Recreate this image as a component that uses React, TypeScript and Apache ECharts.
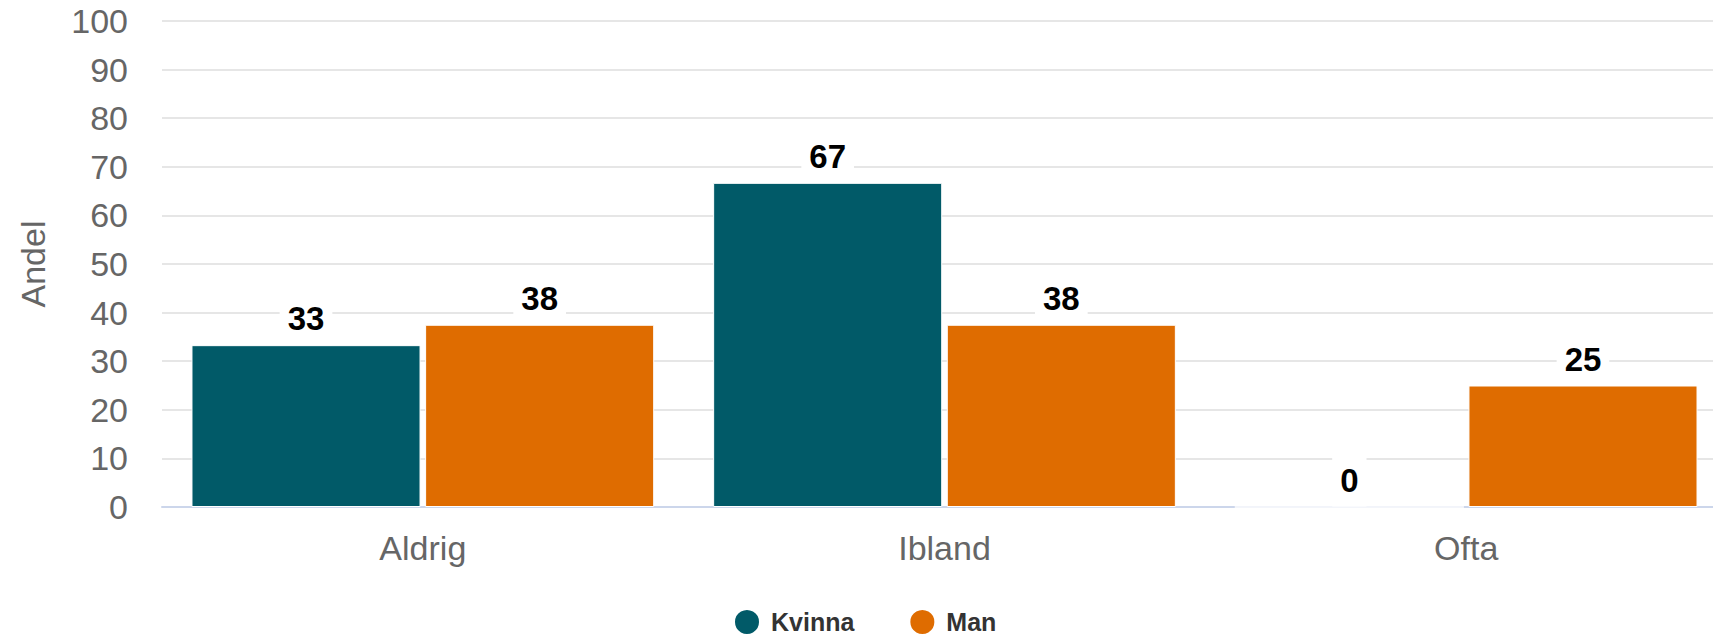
import React, { useEffect, useRef } from "react";
import * as echarts from "echarts";

const categories = ["Aldrig", "Ibland", "Ofta"];
const kvinna = [33.3, 66.7, 0];
const man = [37.5, 37.5, 25];
const yTicks = { min: 0, max: 100, interval: 10 };
const seriesNames = ["Kvinna", "Man"];

const FONT = "'Liberation Sans', Arial, sans-serif";

export default function App() {
  const ref = useRef<HTMLDivElement>(null);
  useEffect(() => {
    if (!ref.current) return;
    const chart = echarts.init(ref.current, null, { renderer: "svg" });
    const label = {
      show: true,
      position: "top",
      distance: 0,
      formatter: (p: any) => String(Math.round(p.value)),
      color: "#000",
      fontWeight: "bold",
      fontSize: 33,
      fontFamily: FONT,
      backgroundColor: "#fff",
      padding: [8, 8, 10, 8],
    };
    chart.setOption({
      animation: false,
      textStyle: { fontFamily: FONT },
      grid: { left: 162, right: 13, top: 21, bottom: 132, containLabel: false },
      legend: {
        data: seriesNames,
        left: 733,
        top: 608,
        padding: 0,
        icon: "circle",
        itemWidth: 26,
        itemHeight: 26,
        itemGap: 54,
        textStyle: { fontSize: 25, fontWeight: "bold", color: "#333", fontFamily: FONT, padding: [0, 0, 0, 6] },
      },
      xAxis: {
        type: "category",
        data: categories,
        axisLine: { show: true, lineStyle: { color: "#ccd6eb", width: 2 } },
        axisTick: { show: false },
        axisLabel: { color: "#666", fontSize: 34, fontFamily: FONT, margin: 24 },
      },
      yAxis: {
        type: "value",
        min: yTicks.min,
        max: yTicks.max,
        interval: yTicks.interval,
        name: "Andel",
        nameLocation: "middle",
        nameGap: 112,
        nameTextStyle: { color: "#666", fontSize: 34, fontFamily: FONT },
        axisLine: { show: false },
        axisTick: { show: false },
        axisLabel: { color: "#666", fontSize: 34, fontFamily: FONT, margin: 34 },
        splitLine: { lineStyle: { color: "#e6e6e6", width: 2 } },
      },
      series: [
        {
          name: seriesNames[0],
          type: "bar",
          data: kvinna,
          barGap: "2%",
          barCategoryGap: "11.3%",
          itemStyle: { color: "#015a68", borderColor: "#fff", borderWidth: 1 },
          label,
          z: 2,
        },
        {
          name: seriesNames[1],
          type: "bar",
          data: man,
          barGap: "2%",
          barCategoryGap: "11.3%",
          itemStyle: { color: "#df6c00", borderColor: "#fff", borderWidth: 1 },
          label,
          z: 2,
        },
      ],
    });
    return () => chart.dispose();
  }, []);
  return (
    <div style={{ position: "fixed", left: 0, top: 0, width: 1713, height: 639, background: "#fff", overflow: "hidden" }}>
      <div ref={ref} style={{ width: 1740, height: 639 }} />
    </div>
  );
}
